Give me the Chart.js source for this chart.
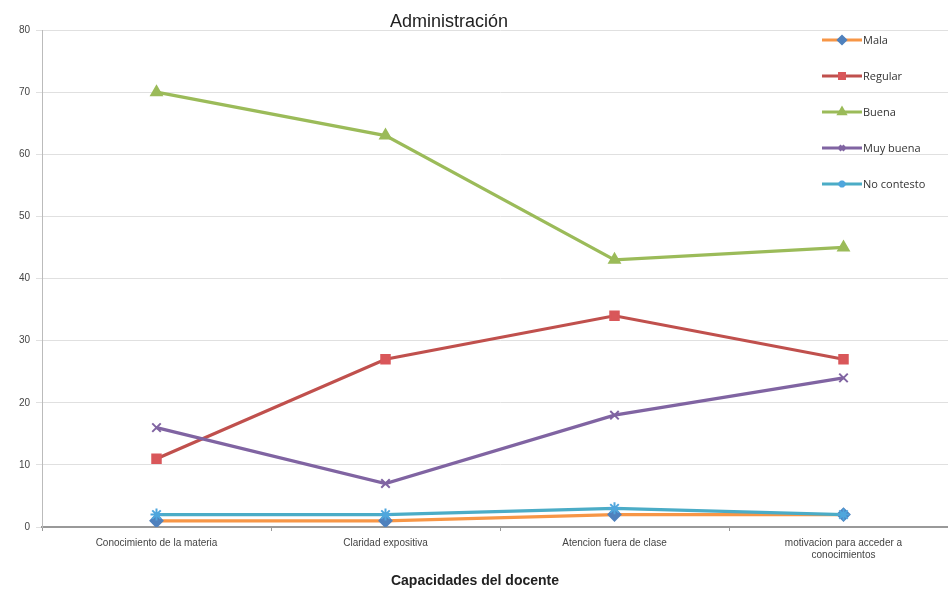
<!DOCTYPE html>
<html><head><meta charset="utf-8">
<script src="https://cdn.jsdelivr.net/npm/chart.js@4.4.0/dist/chart.umd.min.js"></script>
<style>html,body{margin:0;padding:0;background:#fff;overflow:hidden;width:948px;height:589px}#wrap{width:966px;height:589px}#c{width:966px;height:589px;display:block}</style>
</head><body><div id="wrap"><canvas id="c" width="966" height="589"></canvas></div>
<script>
const categories = ["Conocimiento de la materia", "Claridad expositiva", "Atencion fuera de clase", ["motivacion para acceder a", "conocimientos"]];
const seriesNames = ["Mala", "Regular", "Buena", "Muy buena", "No contesto"];
const mala = [1, 1, 2, 2];
const regular = [11, 27, 34, 27];
const buena = [70, 63, 43, 45];
const muyBuena = [16, 7, 18, 24];
const noContesto = [2, 2, 3, 2];
const yTicks = [0, 10, 20, 30, 40, 50, 60, 70, 80];
const chartTitle = "Administración";
const xTitle = "Capacidades del docente";

const styles = [
  {line:'#F79646', mk:'#4F81BD', shape:'rectRot', r:6},
  {line:'#C0504D', mk:'#D9575A', shape:'rect', r:6},
  {line:'#9BBB59', mk:'#9BBB59', shape:'triangle', r:6},
  {line:'#8064A2', mk:'#8064A2', shape:'crossRot', r:6},
  {line:'#4BACC6', mk:'#4FA6DD', shape:'star', r:6}
];
const values = [mala, regular, buena, muyBuena, noContesto];

const datasets = values.map((v,i)=>({
  label: seriesNames[i], data: v,
  borderColor: styles[i].line, backgroundColor: styles[i].mk,
  pointBorderColor: styles[i].mk, pointBackgroundColor: styles[i].mk,
  pointStyle: styles[i].shape, pointRadius: styles[i].r, pointBorderWidth: 2,
  borderWidth: 3.2, tension: 0, order: 4 - i
}));

const overlay = {
  id:'overlay',
  afterDraw(chart){
    const ctx = chart.ctx;
    ctx.save();
    ctx.fillStyle = '#222';
    ctx.font = '18px "Liberation Sans", Arial, sans-serif';
    ctx.textAlign = 'center'; ctx.textBaseline = 'middle';
    ctx.fillText(chartTitle, 449, 22);
    ctx.font = 'bold 14px "Liberation Sans", Arial, sans-serif';
    ctx.fillText(xTitle, 475, 581);
    ctx.font = '11px "Open Sans", "Liberation Sans", sans-serif';
    ctx.textAlign = 'left';
    seriesNames.forEach((n,i)=>{
      const y = 40 + i*36;
      ctx.strokeStyle = styles[i].line; ctx.lineWidth = 3;
      ctx.beginPath(); ctx.moveTo(822,y); ctx.lineTo(862,y); ctx.stroke();
      ctx.fillStyle = styles[i].mk; ctx.strokeStyle = styles[i].mk;
      Chart.helpers.drawPoint(ctx, {pointStyle: styles[i].shape, radius: 3.5, rotation:0, borderWidth:1.5}, 842, y);
      ctx.fillStyle = '#333';
      ctx.fillText(n, 863, y+1);
    });
    ctx.restore();
  }
};

new Chart(document.getElementById('c'), {
  type:'line',
  data:{labels: categories, datasets},
  plugins:[overlay],
  options:{
    responsive:false, animation:false,
    layout:{padding:{top:30, right:0, left:0, bottom:0}},
    plugins:{legend:{display:false}, title:{display:false}, tooltip:{enabled:false}},
    scales:{
      x:{
        offset:true,
        grid:{display:true, drawOnChartArea:false, offset:true, tickLength:4, color:'#999'},
        border:{color:'#999', width:2},
        ticks:{color:'#444', font:{size:10, family:'"Liberation Sans", Arial, sans-serif'}, maxRotation:0, autoSkip:false, padding:6},
        afterFit(s){ s.height = 62; }
      },
      y:{
        min:0, max:80,
        afterBuildTicks(s){ s.ticks = yTicks.map(v=>({value:v})); },
        grid:{color:'#e0e0e0', lineWidth:1, drawTicks:true, tickLength:6},
        border:{color:'#bbb', width:1},
        ticks:{color:'#444', font:{size:10, family:'"Liberation Sans", Arial, sans-serif'}, padding:6},
        afterFit(s){ s.width = 42; }
      }
    }
  }
});
</script></body></html>
